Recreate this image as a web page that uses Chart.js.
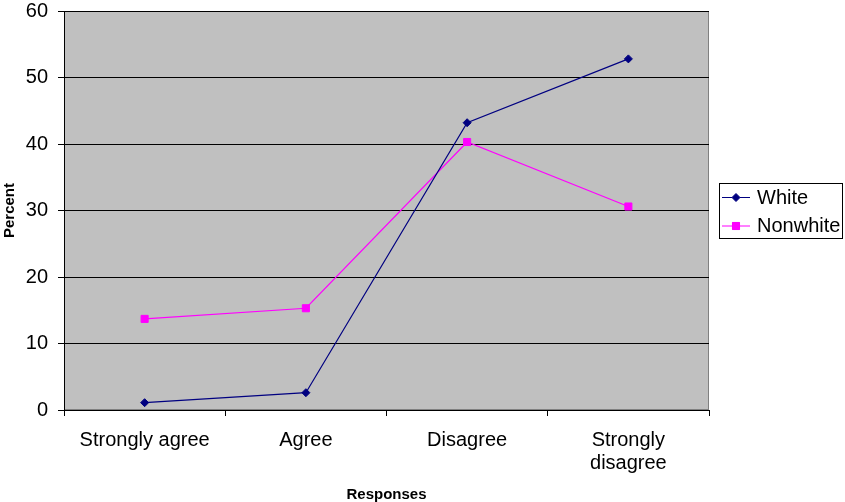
<!DOCTYPE html>
<html>
<head>
<meta charset="utf-8">
<script src="https://cdn.jsdelivr.net/npm/chart.js@4/dist/chart.umd.min.js"></script>
<style>
  html, body { margin: 0; padding: 0; background: #ffffff; }
  #wrap { width: 845px; height: 502px; }
</style>
</head>
<body>
<div id="wrap"><canvas id="chart" width="845" height="502"></canvas></div>
<script>
const categories = ['Strongly agree', 'Agree', 'Disagree', ['Strongly', 'disagree']];
const whiteValues = [1.1, 2.6, 43.2, 52.8];
const nonwhiteValues = [13.7, 15.3, 40.3, 30.6];
const seriesNames = ['White', 'Nonwhite'];

const FONT = '"Liberation Sans", Arial, sans-serif';

// Grey plot-area fill with a thin grey frame
const plotBackground = {
  id: 'plotBackground',
  beforeDraw(chart) {
    const { ctx, chartArea: a } = chart;
    ctx.save();
    ctx.fillStyle = '#c0c0c0';
    ctx.fillRect(a.left, a.top, a.right - a.left, a.bottom - a.top);
    ctx.strokeStyle = '#808080';
    ctx.lineWidth = 1;
    ctx.strokeRect(a.left + 0.5, a.top + 0.5, a.right - a.left - 1, a.bottom - a.top - 1);
    ctx.restore();
  }
};

// Boxed legend to the right of the plot
const boxedLegend = {
  id: 'boxedLegend',
  afterDraw(chart) {
    const { ctx } = chart;
    const x0 = 719, y0 = 183, w = 124, h = 56;
    ctx.save();
    ctx.fillStyle = '#ffffff';
    ctx.fillRect(x0, y0, w, h);
    ctx.strokeStyle = '#000000';
    ctx.lineWidth = 1;
    ctx.strokeRect(x0 + 0.5, y0 + 0.5, w - 1, h - 1);
    chart.data.datasets.forEach((ds, i) => {
      const cy = y0 + 14 + i * 28.5;
      ctx.strokeStyle = ds.borderColor;
      ctx.lineWidth = 1;
      ctx.beginPath();
      ctx.moveTo(x0 + 3, cy + 0.5);
      ctx.lineTo(x0 + 31, cy + 0.5);
      ctx.stroke();
      Chart.helpers.drawPoint(ctx, {
        pointStyle: ds.pointStyle,
        radius: ds.pointRadius,
        borderWidth: 1
      }, x0 + 17, cy + 0.5);
      ctx.fillStyle = ds.pointBackgroundColor;
      ctx.fill();
      ctx.fillStyle = '#000000';
      ctx.font = '20px ' + FONT;
      ctx.textAlign = 'left';
      ctx.textBaseline = 'middle';
      ctx.fillText(ds.label, x0 + 38, cy + 1);
    });
    ctx.restore();
  }
};

new Chart(document.getElementById('chart'), {
  type: 'line',
  data: {
    labels: categories,
    datasets: [
      {
        label: seriesNames[0],
        data: whiteValues,
        borderColor: '#000080',
        backgroundColor: '#000080',
        pointBackgroundColor: '#000080',
        pointBorderColor: '#000080',
        pointStyle: 'rectRot',
        pointRadius: 4,
        pointBorderWidth: 1,
        borderWidth: 1.2,
        tension: 0
      },
      {
        label: seriesNames[1],
        data: nonwhiteValues,
        borderColor: '#ff00ff',
        backgroundColor: '#ff00ff',
        pointBackgroundColor: '#ff00ff',
        pointBorderColor: '#ff00ff',
        pointStyle: 'rect',
        pointRadius: 5,
        pointBorderWidth: 1,
        borderWidth: 1.2,
        tension: 0
      }
    ]
  },
  options: {
    responsive: false,
    animation: false,
    layout: { padding: { top: 11, right: 136, bottom: 0, left: 0 } },
    plugins: {
      legend: { display: false },
      tooltip: { enabled: false }
    },
    scales: {
      x: {
        offset: true,
        grid: { drawOnChartArea: false, drawTicks: true, tickLength: 6, color: '#000000', offset: true },
        border: { display: true, color: '#000000', width: 1 },
        ticks: {
          color: '#000000',
          font: { family: FONT, size: 20, lineHeight: 1.15 },
          padding: 13,
          maxRotation: 0,
          autoSkip: false
        },
        title: {
          display: true,
          text: 'Responses',
          color: '#000000',
          font: { family: FONT, size: 15, weight: 'bold', lineHeight: 1.0 },
          padding: { top: 0, bottom: 0 }
        },
        afterFit(scale) { scale.height = 92; }
      },
      y: {
        min: 0,
        max: 60,
        ticks: {
          stepSize: 10,
          color: '#000000',
          font: { family: FONT, size: 20, lineHeight: 1 },
          padding: 10
        },
        grid: { color: '#000000', lineWidth: 1, tickLength: 6, drawTicks: true },
        border: { display: true, color: '#000000', width: 1 },
        title: {
          display: true,
          text: 'Percent',
          color: '#000000',
          font: { family: FONT, size: 15, weight: 'bold', lineHeight: 1.0 },
          padding: { top: 2.5, bottom: 0 }
        },
        afterFit(scale) {
          scale.width = 64;
          // keep the plot top fixed; the top label fits in the outer padding
          scale.paddingTop = 0;
          scale.paddingBottom = 0;
        }
      }
    }
  },
  plugins: [plotBackground, boxedLegend]
});
</script>
</body>
</html>
